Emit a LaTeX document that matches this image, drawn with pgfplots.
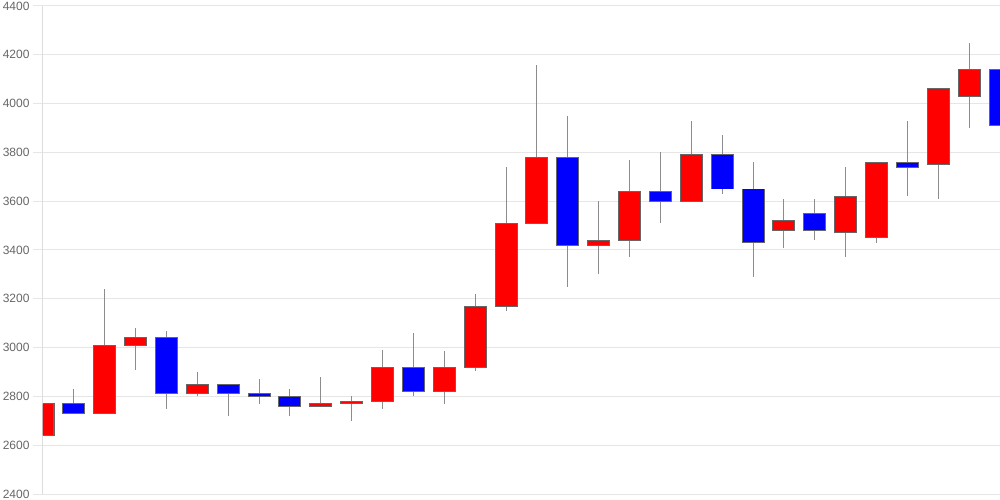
\documentclass[border=0pt]{standalone}
\usepackage{pgfplots}
\usepackage{pgfplotstable}
\pgfplotsset{compat=1.18}
\usepackage{fontspec}
\setmainfont{Liberation Sans}
\definecolor{gridc}{HTML}{E6E6E6}
\definecolor{axc}{HTML}{DDDDDD}
\definecolor{labc}{HTML}{666666}
\definecolor{wickc}{HTML}{8C8C8C}
\definecolor{bordc}{HTML}{666666}
\definecolor{upc}{HTML}{FF0000}
\definecolor{dnc}{HTML}{0000FF}

% x  lo(body bottom)  hi(body top)  low  high
\pgfplotstableread{
x lo hi low high
0 2640 2770 2640 2770
2 2730 3010 2730 3240
3 3010 3040 2910 3080
5 2810 2850 2800 2900
9 2760 2770 2760 2880
10 2770 2780 2700 2800
11 2780 2920 2750 2990
13 2820 2920 2770 2985
14 2920 3170 2905 3220
15 3170 3510 3150 3740
16 3510 3780 3510 4160
18 3420 3440 3300 3600
19 3440 3640 3370 3770
21 3600 3790 3600 3930
24 3480 3520 3410 3610
26 3470 3620 3370 3740
27 3450 3760 3430 3760
29 3750 4060 3610 4060
30 4030 4140 3900 4250
}\redtab

\pgfplotstableread{
x lo hi low high
1 2730 2770 2730 2830
4 2810 3040 2750 3070
6 2810 2850 2720 2850
7 2800 2810 2770 2870
8 2760 2800 2720 2830
12 2820 2920 2800 3060
17 3420 3780 3250 3950
20 3600 3640 3510 3800
22 3650 3790 3630 3870
23 3430 3650 3290 3760
25 3480 3550 3440 3610
28 3740 3760 3620 3930
31 3910 4140 3690 4220
}\bluetab

\pgfplotsset{
  wick/.style={draw=none, mark=none,
    error bars/.cd, y dir=plus, y explicit, error mark=none,
    error bar style={draw=wickc, line width=1pt}},
  body/.style 2 args={draw=none, mark=none,
    error bars/.cd, y dir=plus, y explicit, error mark=none,
    error bar style={draw=#1, line width=#2}},
}

\begin{document}
\begin{tikzpicture}
\begin{axis}[
  scale only axis,
  width=957pt, height=488pt,
  xmin=0, xmax=31,
  ymin=2400, ymax=4400,
  axis x line=none,
  axis y line*=left,
  y axis line style={draw=axc, line width=1pt, -},
  ytick={2400,2600,...,4400},
  ymajorgrids,
  grid style={draw=gridc, line width=1pt},
  tick align=outside,
  major tick length=10pt,
  y tick style={draw=gridc, line width=1pt},
  yticklabel style={font=\fontsize{12}{14}\selectfont, text=labc},
  /pgf/number format/1000 sep={},
  /pgf/number format/assume math mode=true,
  clip=true,
]
% wicks
\addplot[wick] table[x=x, y=low, y error expr=\thisrow{high}-\thisrow{low}] {\redtab};
\addplot[wick] table[x=x, y=low, y error expr=\thisrow{high}-\thisrow{low}] {\bluetab};
% body borders
\addplot[body={bordc}{23pt}] table[x=x, y expr=\thisrow{lo}-2, y error expr=\thisrow{hi}-\thisrow{lo}+4] {\redtab};
\addplot[body={bordc}{23pt}] table[x=x, y expr=\thisrow{lo}-2, y error expr=\thisrow{hi}-\thisrow{lo}+4] {\bluetab};
% body fills
\addplot[body={upc}{21pt}] table[x=x, y expr=\thisrow{lo}+2, y error expr=\thisrow{hi}-\thisrow{lo}-4] {\redtab};
\addplot[body={dnc}{21pt}] table[x=x, y expr=\thisrow{lo}+2, y error expr=\thisrow{hi}-\thisrow{lo}-4] {\bluetab};
\end{axis}
\pgfresetboundingbox
\useasboundingbox (-43pt,-6pt) rectangle (957pt,494pt);
\end{tikzpicture}
\end{document}
